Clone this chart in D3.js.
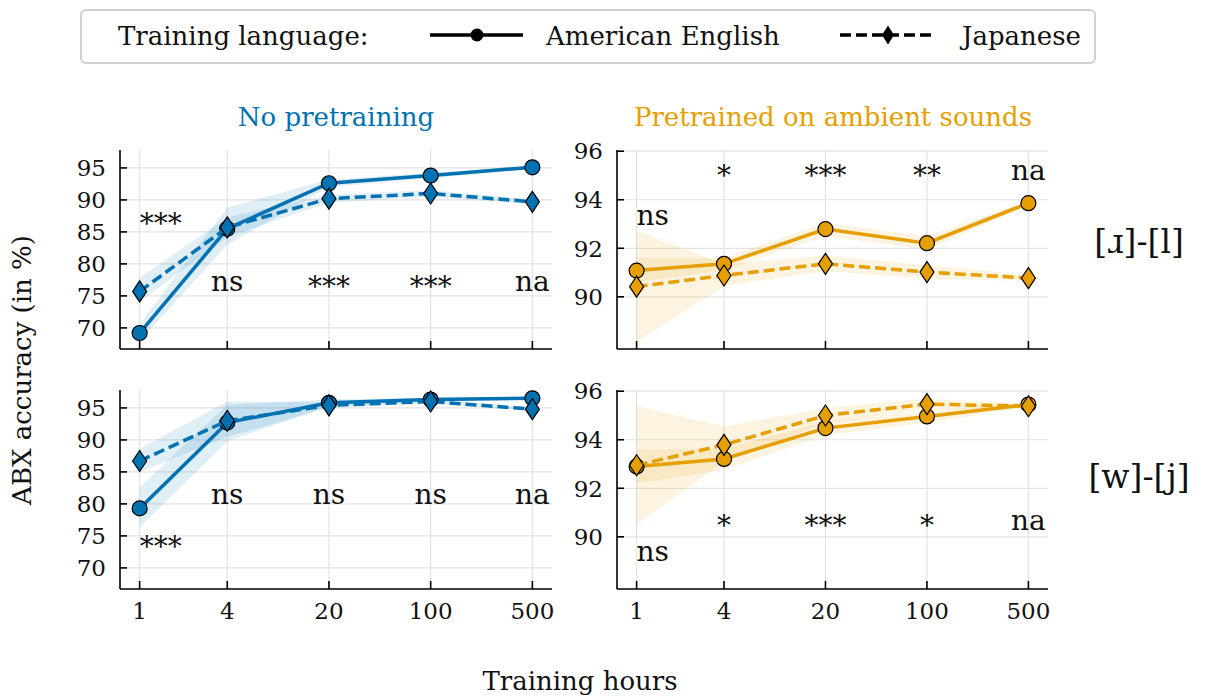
<html>
<head>
<style>
  body { margin: 0; background: #fff; }
  svg { font-family: "DejaVu Serif", serif; }
</style>
</head>
<body>
<svg id="chart" width="1208" height="696"></svg>
<script src="https://cdnjs.cloudflare.com/ajax/libs/d3/7.8.5/d3.min.js"></script>
<script>
  // training hours on the x axis
  var hours = [1, 4, 20, 100, 500];
  var hourLabels = ["1", "4", "20", "100", "500"];

  // [ɹ]-[l], no pretraining
  var rlNoEng = [69.2, 85.5, 92.6, 93.8, 95.1];
  var rlNoEngLo = [67.9, 83.0, 92.0, 93.4, 94.8];
  var rlNoEngHi = [70.6, 88.8, 93.2, 94.2, 95.4];
  var rlNoJap = [75.7, 85.7, 90.2, 91.0, 89.7];
  var rlNoJapLo = [74.1, 84.2, 89.6, 90.5, 89.3];
  var rlNoJapHi = [77.8, 87.3, 90.8, 91.5, 90.1];
  var rlNoSig = ["***", "ns", "***", "***", "na"];

  // [ɹ]-[l], pretrained on ambient sounds
  var rlPreEng = [91.08, 91.36, 92.79, 92.21, 93.86];
  var rlPreEngLo = [90.6, 91.1, 92.5, 91.95, 93.75];
  var rlPreEngHi = [91.6, 91.6, 93.05, 92.5, 93.95];
  var rlPreJap = [90.42, 90.88, 91.36, 91.02, 90.77];
  var rlPreJapLo = [88.15, 90.45, 91.05, 90.75, 90.65];
  var rlPreJapHi = [92.73, 91.35, 91.7, 91.3, 90.9];
  var rlPreSig = ["ns", "*", "***", "**", "na"];

  // [w]-[j], no pretraining
  var wjNoEng = [79.3, 92.7, 95.8, 96.3, 96.5];
  var wjNoEngLo = [76.3, 89.8, 95.3, 96.0, 96.3];
  var wjNoEngHi = [82.6, 95.5, 96.3, 96.6, 96.7];
  var wjNoJap = [86.7, 93.0, 95.4, 96.0, 94.8];
  var wjNoJapLo = [85.0, 90.5, 95.0, 95.7, 94.5];
  var wjNoJapHi = [88.6, 96.0, 95.9, 96.3, 95.1];
  var wjNoSig = ["***", "ns", "ns", "ns", "na"];

  // [w]-[j], pretrained on ambient sounds
  var wjPreEng = [92.9, 93.21, 94.48, 94.96, 95.45];
  var wjPreEngLo = [92.2, 92.75, 94.2, 94.7, 95.35];
  var wjPreEngHi = [93.6, 93.65, 94.75, 95.2, 95.55];
  var wjPreJap = [92.95, 93.79, 95.0, 95.47, 95.38];
  var wjPreJapLo = [90.5, 93.1, 94.7, 95.25, 95.3];
  var wjPreJapHi = [95.4, 94.55, 95.3, 95.7, 95.45];
  var wjPreSig = ["ns", "*", "***", "*", "na"];

  var leftTicks = [70, 75, 80, 85, 90, 95];
  var rightTicks = [90, 92, 94, 96];

  var blue = "#0072B2", orange = "#E69F00";

  var svg = d3.select("#chart");
  svg.append("rect").attr("width", 1208).attr("height", 696).attr("fill", "#fff");

  // panels: position, scales and where the significance labels sit
  var panels = [
    { x0: 120, x1: 552, y0: 150, y1: 349, dom: [66.7, 97.8], ticks: leftTicks, color: blue,
      eng: [rlNoEng, rlNoEngLo, rlNoEngHi], jap: [rlNoJap, rlNoJapLo, rlNoJapHi],
      sig: rlNoSig, sigY: [85.6, 75.8, 75.8, 75.8, 75.8], xlabels: false },
    { x0: 617, x1: 1048, y0: 150, y1: 349, dom: [87.85, 96.05], ticks: rightTicks, color: orange,
      eng: [rlPreEng, rlPreEngLo, rlPreEngHi], jap: [rlPreJap, rlPreJapLo, rlPreJapHi],
      sig: rlPreSig, sigY: [92.97, 94.8, 94.8, 94.8, 94.8], xlabels: false },
    { x0: 120, x1: 552, y0: 390, y1: 589, dom: [66.7, 97.8], ticks: leftTicks, color: blue,
      eng: [wjNoEng, wjNoEngLo, wjNoEngHi], jap: [wjNoJap, wjNoJapLo, wjNoJapHi],
      sig: wjNoSig, sigY: [72.7, 80, 80, 80, 80], xlabels: true },
    { x0: 617, x1: 1048, y0: 390, y1: 589, dom: [87.85, 96.05], ticks: rightTicks, color: orange,
      eng: [wjPreEng, wjPreEngLo, wjPreEngHi], jap: [wjPreJap, wjPreJapLo, wjPreJapHi],
      sig: wjPreSig, sigY: [89.0, 90.28, 90.28, 90.28, 90.28], xlabels: true }
  ];

  // log x with 5% margins like matplotlib
  var lmin = Math.log10(hours[0]), lmax = Math.log10(hours[hours.length - 1]);
  var pad = (lmax - lmin) * 0.05;
  var xDom = [Math.pow(10, lmin - pad), Math.pow(10, lmax + pad)];

  function diamondPath(w, h) {
    return "M0," + (-h) + "L" + w + ",0L0," + h + "L" + (-w) + ",0Z";
  }

  panels.forEach(function (p) {
    var x = d3.scaleLog().domain(xDom).range([p.x0, p.x1]);
    var y = d3.scaleLinear().domain(p.dom).range([p.y1, p.y0]);
    var g = svg.append("g");

    // grid
    g.selectAll(".gx").data(hours).enter().append("line")
      .attr("x1", d => x(d)).attr("x2", d => x(d))
      .attr("y1", p.y0).attr("y2", p.y1)
      .attr("stroke", "#e3e3e3").attr("stroke-width", 1.2);
    g.selectAll(".gy").data(p.ticks).enter().append("line")
      .attr("x1", p.x0).attr("x2", p.x1)
      .attr("y1", d => y(d)).attr("y2", d => y(d))
      .attr("stroke", "#e3e3e3").attr("stroke-width", 1.2);

    // confidence bands
    [p.eng, p.jap].forEach(function (s) {
      var area = d3.area()
        .x((d, i) => x(hours[i]))
        .y0((d, i) => y(s[1][i]))
        .y1((d, i) => y(s[2][i]));
      g.append("path").datum(s[0]).attr("d", area)
        .attr("fill", p.color).attr("fill-opacity", 0.12);
    });

    var line = d3.line().x((d, i) => x(hours[i])).y(d => y(d));
    g.append("path").datum(p.eng[0]).attr("d", line)
      .attr("fill", "none").attr("stroke", p.color).attr("stroke-width", 3.5);
    g.selectAll(".mc").data(p.eng[0]).enter().append("circle")
      .attr("cx", (d, i) => x(hours[i])).attr("cy", d => y(d)).attr("r", 7.5)
      .attr("fill", p.color).attr("stroke", "#000").attr("stroke-width", 1.2);

    g.append("path").datum(p.jap[0]).attr("d", line)
      .attr("fill", "none").attr("stroke", p.color).attr("stroke-width", 3.5)
      .attr("stroke-dasharray", "11,5");
    g.selectAll(".md").data(p.jap[0]).enter().append("path")
      .attr("transform", (d, i) => "translate(" + x(hours[i]) + "," + y(d) + ")")
      .attr("d", diamondPath(7, 10.5))
      .attr("fill", p.color).attr("stroke", "#000").attr("stroke-width", 1.2);

    // significance labels
    g.selectAll(".sig").data(p.sig).enter().append("text")
      .attr("x", (d, i) => x(hours[i]))
      .attr("y", (d, i) => y(p.sigY[i]) + (d.indexOf("*") >= 0 ? 5 : 0))
      .attr("text-anchor", (d, i) => i === 0 ? "start" : "middle")
      .attr("font-size", 28).attr("fill", "#111")
      .text(d => d);

    // spines + inward ticks
    g.append("line").attr("x1", p.x0).attr("x2", p.x0).attr("y1", p.y0).attr("y2", p.y1)
      .attr("stroke", "#000").attr("stroke-width", 1.6);
    g.append("line").attr("x1", p.x0).attr("x2", p.x1).attr("y1", p.y1).attr("y2", p.y1)
      .attr("stroke", "#000").attr("stroke-width", 1.6);
    g.selectAll(".tx").data(hours).enter().append("line")
      .attr("x1", d => x(d)).attr("x2", d => x(d))
      .attr("y1", p.y1).attr("y2", p.y1 - 8)
      .attr("stroke", "#000").attr("stroke-width", 1.6);
    g.selectAll(".ty").data(p.ticks).enter().append("line")
      .attr("x1", p.x0).attr("x2", p.x0 + 7)
      .attr("y1", d => y(d)).attr("y2", d => y(d))
      .attr("stroke", "#000").attr("stroke-width", 1.6);

    g.selectAll(".yl").data(p.ticks).enter().append("text")
      .attr("x", p.x0 - 14).attr("y", d => y(d)).attr("dy", "0.36em")
      .attr("text-anchor", "end").attr("font-size", 23).attr("fill", "#111")
      .text(d => d);
    if (p.xlabels) {
      g.selectAll(".xl").data(hours).enter().append("text")
        .attr("x", d => x(d)).attr("y", p.y1 + 30)
        .attr("text-anchor", "middle").attr("font-size", 23).attr("fill", "#111")
        .text((d, i) => hourLabels[i]);
    }
  });

  // column titles
  svg.append("text").attr("x", 336).attr("y", 126).attr("text-anchor", "middle")
    .attr("font-size", 26).attr("fill", blue).text("No pretraining");
  svg.append("text").attr("x", 833).attr("y", 126).attr("text-anchor", "middle")
    .attr("font-size", 26).attr("fill", orange).text("Pretrained on ambient sounds");

  // row labels
  svg.append("text").attr("x", 1139).attr("y", 253).attr("text-anchor", "middle")
    .attr("font-size", 33).attr("fill", "#111").text("[\u0279]-[l]");
  svg.append("text").attr("x", 1139).attr("y", 488).attr("text-anchor", "middle")
    .attr("font-size", 33).attr("fill", "#111").text("[w]-[j]");

  // axis labels
  svg.append("text").attr("transform", "translate(31,370) rotate(-90)")
    .attr("text-anchor", "middle").attr("font-size", 26).attr("fill", "#111")
    .text("ABX accuracy (in %)");
  svg.append("text").attr("x", 580).attr("y", 690).attr("text-anchor", "middle")
    .attr("font-size", 26).attr("fill", "#111").text("Training hours");

  // legend
  var lg = svg.append("g");
  lg.append("rect").attr("x", 81).attr("y", 10).attr("width", 1014).attr("height", 53)
    .attr("rx", 5).attr("fill", "#fff").attr("stroke", "#d0d0d0").attr("stroke-width", 2);
  lg.append("text").attr("x", 118).attr("y", 45).attr("font-size", 26).attr("fill", "#111")
    .text("Training language:");
  lg.append("line").attr("x1", 430).attr("x2", 523).attr("y1", 35).attr("y2", 35)
    .attr("stroke", "#000").attr("stroke-width", 3.5);
  lg.append("circle").attr("cx", 477).attr("cy", 35).attr("r", 6.5).attr("fill", "#000");
  lg.append("text").attr("x", 546).attr("y", 45).attr("font-size", 26).attr("fill", "#111")
    .text("American English");
  lg.append("line").attr("x1", 840).attr("x2", 935).attr("y1", 35).attr("y2", 35)
    .attr("stroke", "#000").attr("stroke-width", 3.5).attr("stroke-dasharray", "11,5");
  lg.append("path").attr("transform", "translate(888,35)").attr("d", diamondPath(6, 9.5))
    .attr("fill", "#000");
  lg.append("text").attr("x", 962).attr("y", 45).attr("font-size", 26).attr("fill", "#111")
    .text("Japanese");
</script>
</body>
</html>
